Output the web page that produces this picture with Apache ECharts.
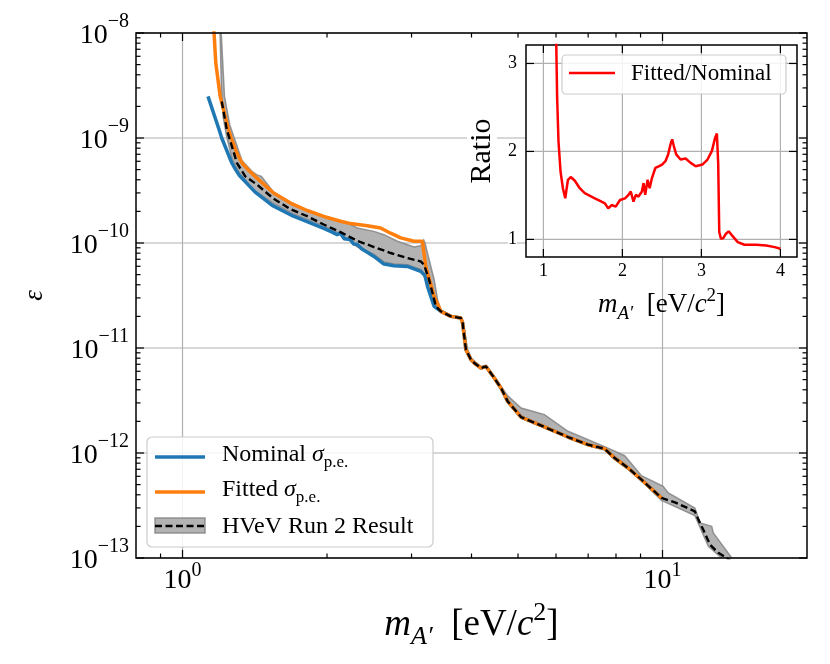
<!DOCTYPE html>
<html><head><meta charset="utf-8">
<script src="https://cdn.jsdelivr.net/npm/echarts@6/dist/echarts.min.js"></script>
<style>html,body{margin:0;padding:0;background:#fff}#c{width:830px;height:664px}</style>
</head><body><div id="c"></div>
<script>
const FONT = '"Liberation Serif", "Times New Roman", serif';

// ---------- main panel data ----------
const nominalMass = [1.13, 1.192, 1.207, 1.267, 1.29, 1.314, 1.417, 1.538, 1.702, 1.818, 1.969, 2.05, 2.10, 2.134, 2.17, 2.239, 2.27, 2.312, 2.36, 2.43, 2.505, 2.628, 2.758, 2.941, 3.135, 3.20, 3.239, 3.344, 3.454, 3.623, 3.802, 3.833, 3.895, 3.99, 4.054, 4.186, 4.288, 4.462, 4.608, 4.759, 5.075, 5.675, 6.354, 6.994, 7.574, 7.948, 8.478, 9.04, 9.952];
const nominalEps = [2.49e-9, 1.20e-9, 1.0e-9, 5.78e-10, 5.0e-10, 4.4e-10, 3.05e-10, 2.28e-10, 1.80e-10, 1.60e-10, 1.38e-10, 1.27e-10, 1.20e-10, 1.24e-10, 1.10e-10, 1.08e-10, 9.8e-11, 9.7e-11, 8.8e-11, 8.1e-11, 7.45e-11, 6.3e-11, 6.08e-11, 5.98e-11, 5.37e-11, 4.9e-11, 3.86e-11, 2.49e-11, 2.23e-11, 2.0e-11, 1.93e-11, 1.73e-11, 9.64e-12, 7.74e-12, 7.2e-12, 6.45e-12, 6.68e-12, 5.18e-12, 4.16e-12, 3.10e-12, 2.20e-12, 1.77e-12, 1.42e-12, 1.20e-12, 1.10e-12, 8.96e-13, 7.2e-13, 5.57e-13, 3.73e-13];

const fittedMass = [1.158, 1.164, 1.173, 1.198, 1.247, 1.263, 1.294, 1.330, 1.375, 1.429, 1.548, 1.678, 1.818, 1.969, 2.134, 2.239, 2.427, 2.586, 2.714, 2.848, 3.036, 3.161, 3.185, 3.212, 3.344, 3.454, 3.623, 3.802, 3.833, 3.895, 3.990, 4.054, 4.186, 4.288, 4.462, 4.608, 4.759, 5.075, 5.675, 6.354, 6.994, 7.574, 7.948, 8.478, 9.040, 9.952];
const fittedEps = [1.3e-8, 9.6e-9, 5.18e-9, 2.49e-9, 1.20e-9, 1.0e-9, 7.4e-10, 5.78e-10, 4.9e-10, 4.15e-10, 2.99e-10, 2.40e-10, 2.04e-10, 1.79e-10, 1.61e-10, 1.53e-10, 1.46e-10, 1.39e-10, 1.24e-10, 1.12e-10, 1.04e-10, 1.04e-10, 1.06e-10, 5.98e-11, 3.10e-11, 2.23e-11, 2.0e-11, 1.93e-11, 1.73e-11, 9.64e-12, 7.74e-12, 7.20e-12, 6.45e-12, 6.68e-12, 5.18e-12, 4.16e-12, 3.10e-12, 2.20e-12, 1.77e-12, 1.42e-12, 1.20e-12, 1.10e-12, 8.96e-13, 7.20e-13, 5.57e-13, 3.73e-13];

const resultMass = [1.207, 1.237, 1.298, 1.351, 1.429, 1.548, 1.678, 1.818, 1.969, 2.134, 2.312, 2.505, 2.714, 2.941, 3.135, 3.185, 3.264, 3.372, 3.454, 3.623, 3.802, 3.833, 3.895, 3.990, 4.054, 4.186, 4.288, 4.462, 4.608, 4.759, 5.075, 5.675, 6.354, 6.994, 7.574, 7.948, 8.478, 9.040, 9.952, 10.61, 11.68, 11.88, 12.16, 12.56, 13.07, 13.61, 14.28];
const resultEps = [2.23e-9, 1.20e-9, 5.8e-10, 4.31e-10, 3.60e-10, 2.64e-10, 2.10e-10, 1.80e-10, 1.50e-10, 1.27e-10, 1.05e-10, 9.16e-11, 8.03e-11, 7.20e-11, 6.68e-11, 6.21e-11, 4.47e-11, 2.49e-11, 2.23e-11, 2.0e-11, 1.93e-11, 1.73e-11, 9.64e-12, 7.74e-12, 7.20e-12, 6.45e-12, 6.68e-12, 5.18e-12, 4.16e-12, 3.10e-12, 2.20e-12, 1.77e-12, 1.42e-12, 1.20e-12, 1.10e-12, 8.96e-13, 7.20e-13, 5.57e-13, 3.73e-13, 3.39e-13, 2.78e-13, 2.32e-13, 1.86e-13, 1.34e-13, 1.12e-13, 1.0e-13, 8.45e-14];

const bandUpperMass = [1.200, 1.205, 1.223, 1.254, 1.33, 1.40, 1.429, 1.46, 1.548, 1.678, 1.818, 1.969, 2.134, 2.239, 2.312, 2.505, 2.628, 2.803, 3.036, 3.135, 3.18, 3.20, 3.264, 3.344, 3.399, 3.454, 3.623, 3.802, 3.85, 3.92, 4.0, 4.186, 4.288, 4.462, 4.608, 4.759, 5.075, 5.675, 6.354, 7.574, 8.340, 9.04, 10.03, 10.28, 11.68, 11.97, 12.66, 12.76, 13.94, 14.38];
const bandUpperEps = [1.1e-8, 9.3e-9, 2.49e-9, 1.34e-9, 6.1e-10, 4.75e-10, 4.45e-10, 4.3e-10, 3.05e-10, 2.45e-10, 2.07e-10, 1.80e-10, 1.60e-10, 1.50e-10, 1.39e-10, 1.29e-10, 1.20e-10, 1.04e-10, 9.16e-11, 9.42e-11, 1.07e-10, 1.0e-10, 6.93e-11, 4.47e-11, 2.88e-11, 2.3e-11, 2.05e-11, 1.97e-11, 1.75e-11, 9.9e-12, 8.0e-12, 6.6e-12, 6.85e-12, 5.35e-12, 4.3e-12, 3.5e-12, 2.68e-12, 2.32e-12, 1.61e-12, 1.15e-12, 9.42e-13, 6.08e-13, 4.81e-13, 4.16e-13, 2.99e-13, 2.16e-13, 2.0e-13, 1.73e-13, 1.0e-13, 8.45e-14];
const bandLowerMass = [1.197, 1.205, 1.215, 1.235, 1.27, 1.314, 1.40, 1.538, 1.70, 1.818, 1.969, 2.134, 2.312, 2.505, 2.628, 2.758, 2.941, 3.135, 3.239, 3.344, 3.454, 3.623, 3.802, 3.833, 3.895, 3.99, 4.054, 4.186, 4.288, 4.462, 4.608, 4.759, 5.075, 5.675, 6.354, 6.994, 7.574, 7.948, 8.478, 9.04, 9.952, 11.68, 12.46, 13.28, 13.74];
const bandLowerEps = [1.1e-8, 3.0e-9, 1.6e-9, 1.05e-9, 6.2e-10, 4.6e-10, 3.25e-10, 2.42e-10, 1.90e-10, 1.68e-10, 1.45e-10, 1.22e-10, 9.2e-11, 7.8e-11, 6.6e-11, 6.3e-11, 6.2e-11, 5.6e-11, 4.1e-11, 2.6e-11, 2.2e-11, 1.98e-11, 1.9e-11, 1.7e-11, 9.4e-12, 7.6e-12, 7.1e-12, 6.35e-12, 6.55e-12, 5.05e-12, 4.05e-12, 3.0e-12, 2.15e-12, 1.74e-12, 1.40e-12, 1.18e-12, 1.07e-12, 8.7e-13, 7.0e-13, 5.45e-13, 3.54e-13, 2.53e-13, 1.29e-13, 1.0e-13, 8.45e-14];

// ---------- inset data ----------
const ratioMass = [1.158, 1.174, 1.191, 1.217, 1.247, 1.277, 1.289, 1.311, 1.345, 1.396, 1.460, 1.523, 1.566, 1.651, 1.736, 1.779, 1.821, 1.864, 1.915, 1.970, 2.034, 2.077, 2.106, 2.140, 2.170, 2.204, 2.247, 2.268, 2.289, 2.319, 2.345, 2.374, 2.417, 2.460, 2.502, 2.545, 2.579, 2.609, 2.630, 2.651, 2.681, 2.736, 2.800, 2.864, 2.928, 3.013, 3.077, 3.132, 3.174, 3.196, 3.213, 3.226, 3.247, 3.277, 3.311, 3.345, 3.387, 3.460, 3.545, 3.694, 3.821, 3.928, 4.000];
const ratioValue = [3.5, 2.617, 2.119, 1.774, 1.582, 1.467, 1.544, 1.678, 1.709, 1.670, 1.582, 1.525, 1.506, 1.467, 1.429, 1.410, 1.352, 1.391, 1.372, 1.448, 1.467, 1.506, 1.544, 1.429, 1.506, 1.487, 1.544, 1.640, 1.506, 1.678, 1.582, 1.697, 1.812, 1.831, 1.851, 1.889, 1.966, 2.080, 2.138, 2.061, 1.966, 1.908, 1.920, 1.870, 1.831, 1.851, 1.908, 2.004, 2.157, 2.203, 1.851, 1.084, 1.008, 1.015, 1.065, 1.092, 1.046, 0.969, 0.939, 0.939, 0.931, 0.912, 0.893];

// ---------- ticks ----------
const xMajorTicks = [1, 10];
const xMinorTicks = [0.9, 2, 3, 4, 5, 6, 7, 8, 9];
const yMajorTicks = [1e-13, 1e-12, 1e-11, 1e-10, 1e-9, 1e-8];
const yMinorTicks = [2e-13,3e-13,4e-13,5e-13,6e-13,7e-13,8e-13,9e-13, 2e-12,3e-12,4e-12,5e-12,6e-12,7e-12,8e-12,9e-12, 2e-11,3e-11,4e-11,5e-11,6e-11,7e-11,8e-11,9e-11, 2e-10,3e-10,4e-10,5e-10,6e-10,7e-10,8e-10,9e-10, 2e-9,3e-9,4e-9,5e-9,6e-9,7e-9,8e-9,9e-9];
const insetXTicks = [1, 2, 3, 4];
const insetYTicks = [1, 2, 3];

const zip = (a, b) => a.map((v, i) => [v, b[i]]);

function pow10Label(v) {
  const e = Math.log10(v), r = Math.round(e);
  if (Math.abs(e - r) > 1e-6) return '';
  return '{b|10}{s|' + (r < 0 ? '\u2212' + (-r) : String(r)) + '}';
}
function intLabel(v) { return Math.abs(v - Math.round(v)) < 1e-6 ? String(Math.round(v)) : ''; }
const powRichX = {
  b: {fontFamily: FONT, fontSize: 28, lineHeight: 34, verticalAlign: 'bottom', color: '#000'},
  s: {fontFamily: FONT, fontSize: 20, lineHeight: 16, verticalAlign: 'top', color: '#000'}
};
const powRichY = {
  b: {fontFamily: FONT, fontSize: 28, lineHeight: 34, padding: [8, 0, 0, 0], verticalAlign: 'bottom', color: '#000'},
  s: {fontFamily: FONT, fontSize: 20, lineHeight: 16, padding: [0, 0, 18, 0], verticalAlign: 'bottom', color: '#000'}
};

function tickSeries(gi, dim, vals, len, ref, z) {
  return {
    type: 'custom', xAxisIndex: gi, yAxisIndex: gi, z: z, silent: true,
    data: vals.map(v => dim === 'x' ? [v, ref] : [ref, v]),
    renderItem: (params, api) => {
      const cs = params.coordSys;
      const p = api.coord([api.value(0), api.value(1)]);
      const mk = (x1, y1, x2, y2) => ({type: 'line', shape: {x1, y1, x2, y2}, style: {stroke: '#000', lineWidth: 1.2}});
      if (dim === 'x') {
        const b = cs.y + cs.height, t = cs.y;
        return {type: 'group', children: [mk(p[0], b, p[0], b - len), mk(p[0], t, p[0], t + len)]};
      } else {
        const l = cs.x, r = cs.x + cs.width;
        return {type: 'group', children: [mk(l, p[1], l + len, p[1]), mk(r, p[1], r - len, p[1])]};
      }
    }
  };
}
function gridSeries(gi, dim, vals, ref, z) {
  return {
    type: 'custom', xAxisIndex: gi, yAxisIndex: gi, z: z, silent: true,
    data: vals.map(v => dim === 'x' ? [v, ref] : [ref, v]),
    renderItem: (params, api) => {
      const cs = params.coordSys;
      const p = api.coord([api.value(0), api.value(1)]);
      const shape = dim === 'x'
        ? {x1: p[0], y1: cs.y, x2: p[0], y2: cs.y + cs.height}
        : {x1: cs.x, y1: p[1], x2: cs.x + cs.width, y2: p[1]};
      return {type: 'line', shape, style: {stroke: '#b0b0b0', lineWidth: 1.2}};
    }
  };
}

const bandSeries = {
  type: 'custom', xAxisIndex: 0, yAxisIndex: 0, z: 2, silent: true, clip: true,
  data: [[1, 1e-10]],
  renderItem: (params, api) => {
    const cs = params.coordSys;
    const pts = [];
    for (let i = 0; i < bandUpperMass.length; i++) pts.push(api.coord([bandUpperMass[i], bandUpperEps[i]]));
    for (let i = bandLowerMass.length - 1; i >= 0; i--) pts.push(api.coord([bandLowerMass[i], bandLowerEps[i]]));
    return {
      type: 'polygon', shape: {points: pts},
      style: {fill: '#b3b3b3', stroke: 'rgba(128,128,128,0.8)', lineWidth: 1.5},
      clipPath: {type: 'rect', shape: {x: cs.x, y: cs.y, width: cs.width, height: cs.height}}
    };
  }
};

const xNameRich = {
  h: {fontFamily: FONT, fontSize: 37, lineHeight: 50, verticalAlign: 'middle', color: '#000'},
  i: {fontFamily: FONT, fontStyle: 'italic', fontSize: 37, lineHeight: 37, verticalAlign: 'middle', color: '#000'},
  a: {fontFamily: FONT, fontStyle: 'italic', fontSize: 26, lineHeight: 28, verticalAlign: 'bottom', color: '#000'},
  r: {fontFamily: FONT, fontSize: 37, lineHeight: 37, verticalAlign: 'middle', color: '#000'},
  s: {fontFamily: FONT, fontSize: 26, lineHeight: 28, verticalAlign: 'top', color: '#000'}
};
const ixNameRich = {
  h: {fontFamily: FONT, fontSize: 27, lineHeight: 36, verticalAlign: 'middle', color: '#000'},
  i: {fontFamily: FONT, fontStyle: 'italic', fontSize: 27, lineHeight: 27, verticalAlign: 'middle', color: '#000'},
  a: {fontFamily: FONT, fontStyle: 'italic', fontSize: 19, lineHeight: 20, verticalAlign: 'bottom', color: '#000'},
  r: {fontFamily: FONT, fontSize: 27, lineHeight: 27, verticalAlign: 'middle', color: '#000'},
  s: {fontFamily: FONT, fontSize: 19, lineHeight: 20, verticalAlign: 'top', color: '#000'}
};
const massName = '{h|}{i|m}{a|A\u2032}{r|  [eV/}{i|c}{s|2}{r|]}';

const legRich = {
  r: {fontFamily: FONT, fontSize: 24, lineHeight: 28, verticalAlign: 'top', color: '#000'},
  g: {fontFamily: FONT, fontStyle: 'italic', fontSize: 24, lineHeight: 28, verticalAlign: 'top', color: '#000'},
  p: {fontFamily: FONT, fontSize: 17, lineHeight: 14, verticalAlign: 'bottom', color: '#000'}
};

const option = {
  animation: false,
  backgroundColor: '#fff',
  grid: [
    {left: 136, top: 33, width: 671, height: 525, show: true, borderColor: '#000', borderWidth: 1.5, backgroundColor: 'transparent', z: 3},
    {left: 526, top: 45, width: 271, height: 212, show: true, borderColor: '#000', borderWidth: 1.5, backgroundColor: '#fff', z: 5}
  ],
  xAxis: [
    {gridIndex: 0, type: 'log', logBase: 10, min: 0.8, max: 20,
     axisLine: {show: false}, axisTick: {show: false}, splitLine: {show: false}, minorTick: {show: false},
     axisLabel: {formatter: pow10Label, rich: powRichX, margin: 3},
     name: massName, nameLocation: 'middle', nameGap: 39, nameTextStyle: {rich: xNameRich}},
    {gridIndex: 1, type: 'value', min: 0.78, max: 4.21, splitNumber: 3, z: 6,
     axisLine: {show: false}, axisTick: {show: false}, splitLine: {show: false},
     axisLabel: {formatter: intLabel, fontFamily: FONT, fontSize: 18, color: '#000', margin: 5, backgroundColor: '#fff'},
     name: massName, nameLocation: 'middle', nameGap: 30, nameTextStyle: {rich: ixNameRich}}
  ],
  yAxis: [
    {gridIndex: 0, type: 'log', logBase: 10, min: 1e-13, max: 1e-8,
     axisLine: {show: false}, axisTick: {show: false}, splitLine: {show: false}, minorTick: {show: false},
     axisLabel: {formatter: pow10Label, rich: powRichY, margin: 7},
     name: '\u03b5', nameLocation: 'middle', nameGap: 88,
     nameTextStyle: {fontFamily: FONT, fontStyle: 'italic', fontSize: 27, color: '#000'}},
    {gridIndex: 1, type: 'value', min: 0.8, max: 3.21, splitNumber: 3, z: 6,
     axisLine: {show: false}, axisTick: {show: false}, splitLine: {show: false},
     axisLabel: {formatter: intLabel, fontFamily: FONT, fontSize: 18, color: '#000', margin: 9, backgroundColor: '#fff'},
     name: 'Ratio', nameLocation: 'middle', nameGap: 29,
     nameTextStyle: {fontFamily: FONT, fontSize: 30, color: '#000', backgroundColor: '#fff'}}
  ],
  series: [
    gridSeries(0, 'x', xMajorTicks, 1e-10, 1),
    gridSeries(0, 'y', yMajorTicks, 1, 1),
    bandSeries,
    {type: 'line', xAxisIndex: 0, yAxisIndex: 0, z: 2, data: zip(nominalMass, nominalEps), showSymbol: false, symbol: 'none',
     lineStyle: {color: '#1f77b4', width: 3.5}},
    {type: 'line', xAxisIndex: 0, yAxisIndex: 0, z: 2, data: zip(fittedMass, fittedEps), showSymbol: false, symbol: 'none',
     lineStyle: {color: '#ff7f0e', width: 3.5}},
    {type: 'line', xAxisIndex: 0, yAxisIndex: 0, z: 2, data: zip(resultMass, resultEps), showSymbol: false, symbol: 'none',
     lineStyle: {color: '#000', width: 2.4, type: [7, 3.5]}},
    tickSeries(0, 'x', xMajorTicks, 8, 1e-10, 4),
    tickSeries(0, 'x', xMinorTicks, 4.5, 1e-10, 4),
    tickSeries(0, 'y', yMajorTicks, 8, 1, 4),
    tickSeries(0, 'y', yMinorTicks, 4.5, 1, 4),
    gridSeries(1, 'x', insetXTicks, 2, 6),
    gridSeries(1, 'y', insetYTicks, 2, 6),
    {type: 'line', xAxisIndex: 1, yAxisIndex: 1, z: 7, data: zip(ratioMass, ratioValue), showSymbol: false, symbol: 'none',
     lineStyle: {color: '#ff0000', width: 2.5}},
    tickSeries(1, 'x', insetXTicks, 8, 2, 8),
    tickSeries(1, 'y', insetYTicks, 8, 2, 8)
  ],
  graphic: [
    {type: 'rect', z: 20, shape: {x: 147, y: 437, width: 286, height: 110, r: 5},
     style: {fill: 'rgba(255,255,255,0.85)', stroke: '#cccccc', lineWidth: 1.2}},
    {type: 'line', z: 21, shape: {x1: 155, y1: 457, x2: 205, y2: 457}, style: {stroke: '#1f77b4', lineWidth: 3.5}},
    {type: 'text', z: 21, style: {x: 222, y: 457, text: '{r|Nominal }{g|\u03c3}{p|p.e.}', rich: legRich, verticalAlign: 'middle'}},
    {type: 'line', z: 21, shape: {x1: 155, y1: 492, x2: 205, y2: 492}, style: {stroke: '#ff7f0e', lineWidth: 3.5}},
    {type: 'text', z: 21, style: {x: 222, y: 492, text: '{r|Fitted }{g|\u03c3}{p|p.e.}', rich: legRich, verticalAlign: 'middle'}},
    {type: 'rect', z: 21, shape: {x: 155, y: 518, width: 50, height: 15},
     style: {fill: '#b3b3b3', stroke: 'rgba(128,128,128,0.8)', lineWidth: 1.5}},
    {type: 'line', z: 22, shape: {x1: 155, y1: 526, x2: 205, y2: 526}, style: {stroke: '#000', lineWidth: 2.4, lineDash: [7, 3.5]}},
    {type: 'text', z: 21, style: {x: 222, y: 527, text: 'HVeV Run 2 Result', fontFamily: FONT, fontSize: 24, fill: '#000', verticalAlign: 'middle'}},
    {type: 'rect', z: 20, shape: {x: 562, y: 55, width: 224, height: 39, r: 4},
     style: {fill: 'rgba(255,255,255,0.85)', stroke: '#cccccc', lineWidth: 1.2}},
    {type: 'line', z: 21, shape: {x1: 569, y1: 73, x2: 615, y2: 73}, style: {stroke: '#ff0000', lineWidth: 2.5}},
    {type: 'text', z: 21, style: {x: 631, y: 74, text: 'Fitted/Nominal', fontFamily: FONT, fontSize: 23, fill: '#000', verticalAlign: 'middle'}}
  ]
};

const chart = echarts.init(document.getElementById('c'), null, {renderer: 'canvas'});
chart.setOption(option);
</script>
</body></html>
